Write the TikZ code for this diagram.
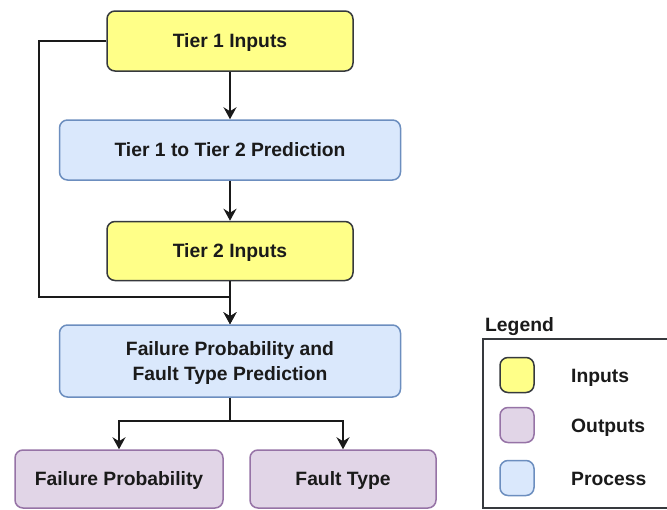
\documentclass[tikz,border=0pt]{standalone}
\usepackage{fontspec}
\setmainfont{Liberation Sans}
\usetikzlibrary{arrows.meta}
\definecolor{inFill}{HTML}{FFFF88}
\definecolor{inDraw}{HTML}{36393D}
\definecolor{prFill}{HTML}{DAE8FC}
\definecolor{prDraw}{HTML}{6C8EBF}
\definecolor{ouFill}{HTML}{E1D5E7}
\definecolor{ouDraw}{HTML}{9673A6}
\definecolor{txt}{HTML}{1A1A1A}
\begin{document}
\begin{tikzpicture}[x=1pt,y=-1pt,
  font=\fontsize{19.3}{25}\selectfont\bfseries, text=txt,
  box/.style={rounded corners=8pt, line width=1.5pt, align=center, inner sep=0pt, text depth=0pt},
  inbox/.style={box, fill=inFill, draw=inDraw},
  prbox/.style={box, fill=prFill, draw=prDraw},
  oubox/.style={box, fill=ouFill, draw=ouDraw},
  swatch/.style={minimum width=34pt, minimum height=35pt, rounded corners=6pt},
  leglabel/.style={anchor=base west, inner sep=0pt},
  conn/.style={line width=1.8pt, draw=txt},
  arr/.style={conn, -{Stealth[length=12pt,width=13pt,inset=4pt]}}]
\clip (0,0) rectangle (667,509);
\fill[white] (0,0) rectangle (667,509);

\node[inbox, minimum width=246pt, minimum height=60pt] (t1) at (230,41) {Tier 1 Inputs};
\node[prbox, minimum width=341pt, minimum height=60pt] (p1) at (230,150) {Tier 1 to Tier 2 Prediction};
\node[inbox, minimum width=246pt, minimum height=59pt] (t2) at (230,251) {Tier 2 Inputs};
\node[prbox, minimum width=341pt, minimum height=72pt] (fp) at (230,361) {Failure Probability and\\Fault Type Prediction};
\node[oubox, minimum width=208pt, minimum height=58pt] (o1) at (119,479) {Failure Probability};
\node[oubox, minimum width=186pt, minimum height=58pt] (o2) at (343,479) {Fault Type};

\coordinate (lc) at (39,297);
\coordinate (sp) at (230,421);
\draw[arr] (t1) -- (p1);
\draw[arr] (p1) -- (t2);
\draw[arr] (t2) -- (fp);
\draw[arr] (t1.west) -| (lc) -| (fp.north);
\draw[conn] (fp.south) -- (sp);
\draw[arr] (sp) -| (o1.north);
\draw[arr] (sp) -| (o2.north);

% legend
\node[leglabel] (legtitle) at (485,331) {Legend};
\node[draw=inDraw, line width=1.3pt, fill=white, minimum width=217pt, minimum height=169pt, inner sep=0pt] (legbox) at (591.5,423.5) {};
\node[swatch, inbox] (s1) at (517,375) {};
\node[swatch, oubox] (s2) at (517,425) {};
\node[swatch, prbox] (s3) at (517,478) {};
\node[leglabel] (l1) at (571,382) {Inputs};
\node[leglabel] (l2) at (571,432) {Outputs};
\node[leglabel] (l3) at (571,485) {Process};
\end{tikzpicture}
\end{document}
